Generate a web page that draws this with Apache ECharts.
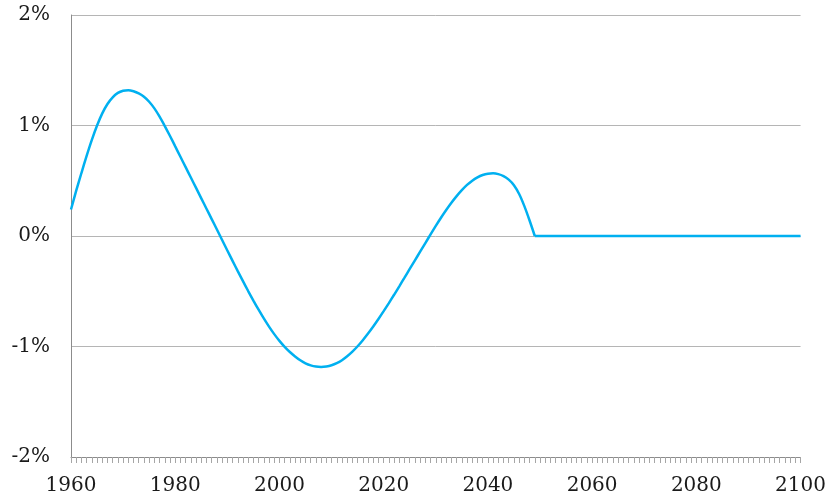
<!DOCTYPE html>
<html>
<head>
<meta charset="utf-8">
<script src="https://cdn.jsdelivr.net/npm/echarts@6/dist/echarts.min.js"></script>
<style>
  html, body { margin: 0; padding: 0; background: #fff; }
  #chart { width: 829px; height: 501px; }
</style>
</head>
<body>
<div id="chart"></div>
<script>
// years on the x axis
var years = [];
for (var y = 1960; y <= 2100; y++) years.push(String(y));

// annual values in percent
var values = [
  0.24, 0.41, 0.57, 0.725, 0.87, 1.00, 1.11, 1.195, 1.255, 1.295,        // 1960-1969
  1.315, 1.32, 1.31, 1.29, 1.26, 1.215, 1.155, 1.08, 0.995, 0.905,       // 1970-1979
  0.811, 0.717, 0.623, 0.529, 0.435, 0.341, 0.247, 0.153, 0.059, -0.036, // 1980-1989
  -0.131, -0.225, -0.318, -0.409, -0.498, -0.584, -0.667, -0.746, -0.82, -0.888, // 1990-1999
  -0.949, -1.003, -1.05, -1.09, -1.125, -1.152, -1.171, -1.182, -1.185, -1.181,  // 2000-2009
  -1.17, -1.151, -1.124, -1.089, -1.047, -0.998, -0.943, -0.883, -0.819, -0.751, // 2010-2019
  -0.68, -0.607, -0.532, -0.455, -0.377, -0.298, -0.22, -0.142, -0.064, 0.014,   // 2020-2029
  0.091, 0.165, 0.235, 0.301, 0.361, 0.415, 0.462, 0.501, 0.531, 0.552,  // 2030-2039
  0.564, 0.567, 0.56, 0.542, 0.51, 0.46, 0.38, 0.27, 0.14, 0,           // 2040-2049
  0, 0, 0, 0, 0, 0, 0, 0, 0, 0,                                         // 2050-2059
  0, 0, 0, 0, 0, 0, 0, 0, 0, 0,                                         // 2060-2069
  0, 0, 0, 0, 0, 0, 0, 0, 0, 0,                                         // 2070-2079
  0, 0, 0, 0, 0, 0, 0, 0, 0, 0,                                         // 2080-2089
  0, 0, 0, 0, 0, 0, 0, 0, 0, 0,                                         // 2090-2099
  0                                                                     // 2100
];

var yTicks = [-2, -1, 0, 1, 2];

// the curve ends sharply at 2049, after which the line is flat
var breakYear = '2049';
var breakIdx = years.indexOf(breakYear);
var curve = values.map(function (v, i) { return i <= breakIdx ? v : '-'; });
var flat = values.map(function (v, i) { return i >= breakIdx ? v : '-'; });

var chart = echarts.init(document.getElementById('chart'));

var lineStyle = { color: '#00B0F0', width: 2.5 };

var option = {
  animation: false,
  grid: {
    left: 71,
    right: 28,
    top: 15,
    bottom: 44
  },
  xAxis: {
    type: 'category',
    data: years,
    boundaryGap: false,
    axisLine: { onZero: false, lineStyle: { color: '#8c8c8c', width: 1 } },
    axisTick: {
      show: true,
      interval: 0,
      length: 6,
      lineStyle: { color: '#a6a6a6' }
    },
    axisLabel: {
      interval: 19,
      margin: 19,
      color: '#1a1a1a',
      fontFamily: 'DejaVu Serif',
      fontSize: 20
    },
    splitLine: { show: false }
  },
  yAxis: {
    type: 'value',
    min: yTicks[0],
    max: yTicks[yTicks.length - 1],
    interval: 1,
    axisLine: { show: true, lineStyle: { color: '#8c8c8c', width: 1 } },
    axisTick: { show: false },
    axisLabel: {
      margin: 21,
      color: '#1a1a1a',
      fontFamily: 'DejaVu Serif',
      fontSize: 20,
      formatter: function (v) { return v + '%'; }
    },
    splitLine: { lineStyle: { color: '#b5b5b5', width: 1 } }
  },
  series: [
    {
      type: 'line',
      data: curve,
      showSymbol: false,
      smooth: 0.3,
      lineStyle: lineStyle,
      itemStyle: { color: '#00B0F0' }
    },
    {
      type: 'line',
      data: flat,
      showSymbol: false,
      lineStyle: lineStyle,
      itemStyle: { color: '#00B0F0' }
    }
  ]
};

chart.setOption(option);
</script>
</body>
</html>
